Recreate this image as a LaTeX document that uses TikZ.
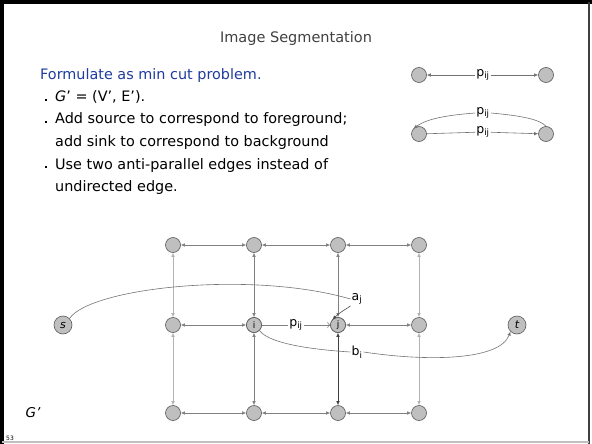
\documentclass[tikz,border=0pt]{standalone}
\usepackage{fontspec}
\setmainfont{DejaVu Sans}
\newfontfamily\lab{DejaVu Sans}
\usetikzlibrary{arrows.meta}
\definecolor{ttlblue}{HTML}{1F3C9E}
\begin{document}
\begin{tikzpicture}[x=1pt,y=-1pt,
  vtx/.style={circle,draw=black!65,fill=black!25,minimum size=15pt,inner sep=0pt,line width=0.6pt,font=\lab\fontsize{9}{10}\selectfont},
  st/.style={vtx,minimum size=18pt,font=\lab\itshape\fontsize{11}{12}\selectfont},
  bi/.style={draw=black!50,line width=0.6pt,{Latex[length=4pt,width=3.5pt]}-{Latex[length=4pt,width=3.5pt]}},
  bil/.style={bi,draw=black!30},
  uni/.style={draw=black!55,line width=0.6pt,-{Latex[length=4pt,width=3.5pt]}},
  plain/.style={draw=black!55,line width=0.6pt},
  elab/.style={font=\lab\fontsize{12.5}{13}\selectfont,inner sep=1pt,fill=white},
  body/.style={anchor=base west,font=\fontsize{14.4}{16}\selectfont,inner sep=0pt},
  blt/.style={rectangle,fill=black,inner sep=0pt,minimum size=2.2pt}
]
\path[use as bounding box] (0,0) rectangle (592,444);
% frame
\draw[black,line width=4pt] (2,444) -- (2,2) -- (592,2);
\draw[black!75,line width=2pt] (589,2) -- (589,444);
\draw[black!25,line width=2pt] (2,442) -- (589,442);
% title
\node[font=\fontsize{14.5}{16}\selectfont,text=black!75] (title) at (296,39) {Image Segmentation};
% text
\node[body,text=ttlblue] (f) at (40,80) {Formulate as min cut problem.};
\node[blt] (b1) at (46,100) {};
\node[body] (t1) at (55,102) {\textit{G}' = (V', E').};
\node[blt] (b2) at (46,122) {};
\node[body] (t2) at (55,124) {Add source to correspond to foreground;};
\node[body] (t3) at (55,146) {add sink to correspond to background};
\node[blt] (b3) at (46,167) {};
\node[body] (t4) at (55,169) {Use two anti-parallel edges instead of};
\node[body] (t5) at (55,191) {undirected edge.};
% top right legend
\node[vtx] (l1) at (419,75) {};
\node[vtx] (r1) at (546,75) {};
\node[elab] (p1) at (483,75) {p\textsubscript{ij}};
\draw[uni] (p1) -- (l1);
\draw[uni] (p1) -- (r1);
\node[vtx] (l2) at (419,134) {};
\node[vtx] (r2) at (546,134) {};
\node[elab] (p2) at (483,113) {p\textsubscript{ij}};
\node[elab] (p3) at (483,132) {p\textsubscript{ij}};
\draw[uni] (p2.west) .. controls (450,115) and (428,118) .. (l2.north west);
\draw[plain] (r2.north) .. controls (540,120) and (525,116) .. (p2.east);
\draw[plain] (l2) -- (p3);
\draw[uni] (p3) -- (r2);
% grid
\foreach \c/\x in {1/173,2/254,3/338,4/419}{
  \foreach \r/\y in {1/245,2/325,3/413}{
    \node[vtx] (n\c\r) at (\x,\y) {};
  }
}
\node[vtx] (i) at (254,325) {i};
\node[vtx] (j) at (338,325) {j};
\node[st] (s) at (63,325) {s};
\node[st] (t) at (517,325) {t};
% horizontal edges
\draw[bi] (n11) -- (n21); \draw[bi] (n21) -- (n31); \draw[bi] (n31) -- (n41);
\draw[bi] (n12) -- (i);
\draw[bi] (j) -- (n42);
\draw[bi] (n13) -- (n23); \draw[bi] (n23) -- (n33); \draw[bi] (n33) -- (n43);
% vertical edges
\draw[bil] (n11) -- (n12); \draw[bil] (n12) -- (n13);
\draw[bi] (n21) -- (i); \draw[bi] (i) -- (n23);
\draw[bi] (n31) -- (j); \draw[bi,draw=black!75] (j) -- (n33);
\draw[bil] (n41) -- (n42); \draw[bil] (n42) -- (n43);
% p_ij between i and j
\node[elab] (pij) at (296,325) {p\textsubscript{ij}};
\draw[bi,-] (i) -- (pij);
\draw[bi,->] (pij) -- (j);
% a_j curve
\node[elab] (aj) at (357,299) {a\textsubscript{j}};
\draw[plain] (s.north east) .. controls (90,288) and (250,270) .. (aj.west);
\draw[uni,draw=black!70] (aj.south west) .. controls (348,308) and (340,312) .. (j.north west);
% b_i curve
\node[elab] (bi) at (357,352) {b\textsubscript{i}};
\draw[plain] (i.south east) .. controls (270,345) and (320,350) .. (bi.west);
\draw[uni] (bi.east) .. controls (430,362) and (500,360) .. (t.south west);
% G' and page number
\node[font=\fontsize{13.5}{15}\selectfont\itshape] (g) at (33,413) {G'};
\node[font=\lab\fontsize{6}{7}\selectfont,anchor=base west,inner sep=0pt] (pg) at (6,440) {53};
\end{tikzpicture}
\end{document}
